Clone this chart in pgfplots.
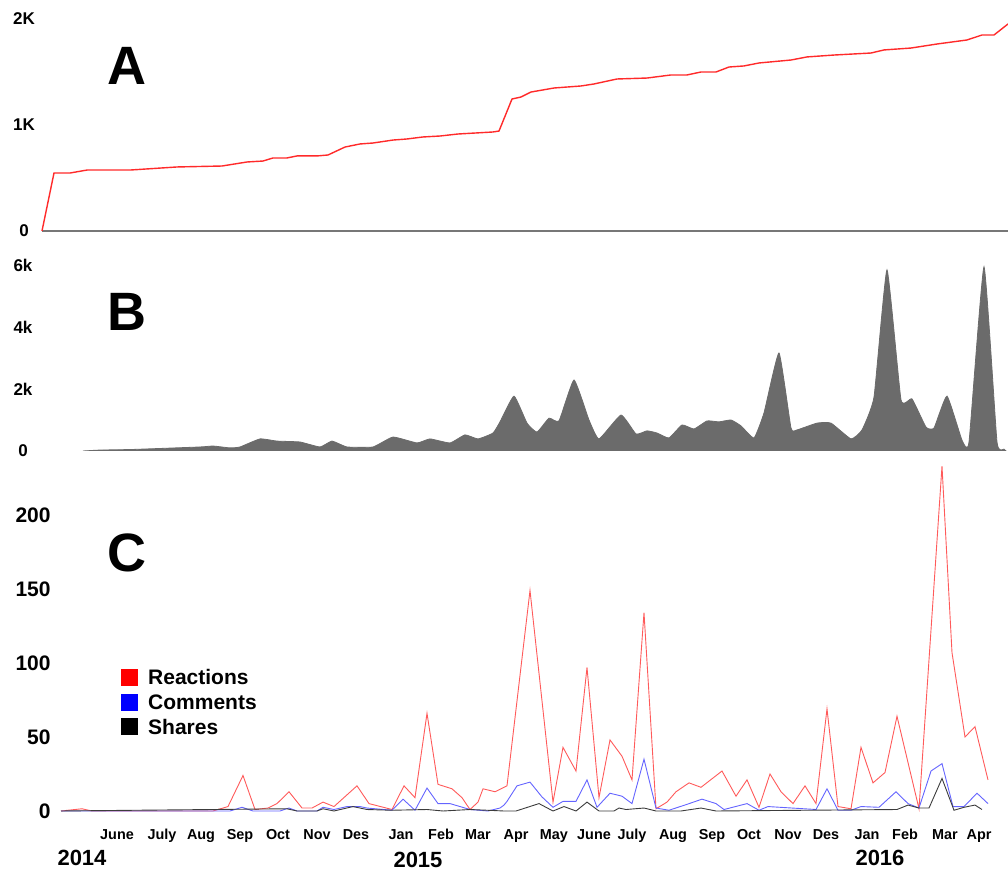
\documentclass[border=0pt]{standalone}
\usepackage{pgfplots}
\pgfplotsset{compat=1.18}
\usepackage{fontspec}
\setmainfont{Liberation Sans}

\definecolor{redA}{HTML}{FF2A2A}
\definecolor{redC}{HTML}{FF5A5A}
\definecolor{blueC}{HTML}{6464FF}
\definecolor{blackC}{HTML}{3C3C3C}
\definecolor{areaB}{HTML}{6B6B6B}
\definecolor{baseA}{HTML}{777777}

% all three panels share one x scale (x = position along the timeline)
\pgfplotsset{
  panel/.style={
    x=0.5pt, xmin=0, xmax=1008,
    axis line style={draw=none},
    major tick length=0pt,
    xtick=\empty,
    ytick pos=left,
    anchor=south west,
  },
  sq/.style={legend image code/.code={\fill[#1] (0pt,-3pt) rectangle (8pt,5pt);}},
}

\begin{document}
\begin{tikzpicture}
\path[use as bounding box] (0,0) rectangle (504pt,-435pt);

% ---------- A: cumulative ----------
\begin{axis}[panel, at={(0pt,-115.5pt)}, y=0.053pt, ymin=0, ymax=2150, clip=false,
  ytick={0,1000,2000}, yticklabels={0,1K,2K},
  yticklabel style={anchor=center, xshift=12pt, font=\fontsize{8.5}{9}\selectfont\bfseries}]
\addplot[baseA, line width=0.6pt] coordinates {(42,0) (1008,0)};
\addplot[redA, line width=0.7pt] coordinates {
(42,0) (54,547) (70,547) (87,575) (130,575) (177,604) (222,613) (247,651)
(263,660) (273,689) (287,689) (297,708) (317,708) (328,717) (345,792)
(360,821) (373,830) (393,858) (407,868) (423,887) (440,896) (458,915)
(493,934) (499,943) (512,1245) (521,1264) (531,1311) (554,1349) (581,1368)
(594,1387) (617,1434) (647,1443) (671,1472) (687,1472) (701,1500) (716,1500)
(729,1547) (744,1557) (759,1585) (791,1613) (807,1642) (834,1660) (871,1679)
(884,1708) (911,1726) (937,1764) (967,1802) (982,1849) (994,1849) (1008,1953)};
\end{axis}

% ---------- B: area ----------
\begin{axis}[panel, at={(0pt,-225.5pt)}, y=0.0155pt, ymin=0, ymax=6300,
  ytick={0,2000,4000,6000}, yticklabels={0,2k,4k,6k},
  yticklabel style={anchor=center, xshift=11.5pt, font=\fontsize{8.5}{9}\selectfont\bfseries}]
\addplot[fill=areaB, draw=areaB, smooth, tension=0.25] coordinates {
(83,0) (100,30) (133,50) (200,130) (213,160) (230,100) (240,130) (260,390)
(277,320) (300,290) (320,130) (332,320) (347,130) (373,130) (393,450)
(417,260) (430,390) (450,260) (465,520) (478,390) (493,580) (500,940)
(514,1770) (527,900) (537,610) (549,1060) (559,970) (574,2290) (589,1000)
(599,390) (621,1160) (636,550) (647,650) (657,580) (669,420) (682,840)
(694,710) (707,970) (719,940) (731,1000) (741,810) (754,420) (764,1230)
(779,3160) (791,740) (797,680) (817,900) (831,900) (851,390) (862,680)
(874,1740) (887,5840) (901,1650) (912,1680) (926,770) (934,740) (947,1770)
(962,350) (969,290) (984,5940) (997,290) (1004,60) (1006,0)} \closedcycle;
\end{axis}

% ---------- C: reactions, comments, shares ----------
\begin{axis}[panel, at={(0pt,-412.9pt)}, y=0.74pt, ymin=-10, ymax=245, clip=false,
  ytick={0,50,100,150,200}, yticklabels={0,50,100,150,200},
  yticklabel style={anchor=east, inner sep=0pt, xshift=25.5pt, font=\fontsize{10.5}{12}\selectfont\bfseries},
  xtick={117,162,201,240,278,317,356,401,441,478,516,554,594,632,673,712,749,788,826,867,905,945,979},
  xticklabels={June,July,Aug,Sep,Oct,Nov,Des,Jan,Feb,Mar,Apr,May,June,July,Aug,Sep,Oct,Nov,Des,Jan,Feb,Mar,Apr},
  xticklabel style={anchor=base, inner sep=0pt, yshift=-7.1pt, font=\fontsize{7.2}{8}\selectfont\bfseries},
  legend style={at={(axis cs:121,97.7)}, anchor=north west, draw=none, fill=none,
    inner sep=0pt, row sep=0pt, font=\fontsize{10.5}{12}\selectfont\bfseries,
    nodes={inner sep=1.45pt, text height=7.5pt, text depth=2pt},
    /tikz/every odd column/.append style={column sep=3.5pt}},
  legend cell align=left]
\addplot[redC, line width=0.45pt, sq=red] coordinates {
(61,0) (82,1.5) (92,0) (213,0) (228,3) (243,24) (255,1) (268,2) (277,5)
(289,13) (302,2) (312,2) (323,6) (334,3) (357,17) (369,5) (392,1) (404,17)
(415,9) (427,66) (438,18) (452,15) (462,9) (470,1) (478,6) (483,15) (495,13)
(504,16) (507,17) (530,149) (553,6) (563,43) (576,27) (587,97) (599,9)
(610,48) (622,37) (632,21) (644,134) (656,1.5) (667,6) (676,13) (689,19)
(701,16) (722,27) (736,10) (747,21) (759,2.5) (770,25) (781,13) (793,5)
(805,17) (816,5) (827,69) (838,3) (851,1.5) (861,43) (873,19) (885,26)
(897,64) (919,1.5) (942,233) (952,107) (965,50) (975,57) (988,21)};
\addlegendentry{Reactions}
\addplot[blueC, line width=0.45pt, sq=blue] coordinates {
(61,0) (230,0) (242,2.5) (253,0) (280,0) (289,2) (297,0) (317,0) (323,2.5)
(334,1) (347,3) (360,3) (367,2) (392,0.5) (403,8) (415,0.5) (427,15.5)
(438,5) (450,5) (470,1) (488,0) (500,2) (504,4) (507,6.5) (517,17) (530,19.5)
(542,9.5) (553,2.5) (563,6.5) (576,6.5) (587,21) (597,2.5) (610,12) (622,10)
(632,5) (644,35) (656,2) (669,0.5) (687,4.5) (702,8) (716,5) (724,1) (747,5)
(759,0.5) (768,3) (816,1) (827,15) (838,0.5) (851,0.5) (861,3) (879,2.5)
(896,13) (908,5) (919,2) (931,27) (942,32) (953,3) (964,3) (977,12) (988,5)};
\addlegendentry{Comments}
\addplot[blackC, line width=0.45pt, sq=black] coordinates {
(61,0) (287,1.5) (297,0) (317,0) (323,1.5) (334,0) (353,3) (367,1) (392,0.5)
(427,1) (443,0) (470,1) (504,0) (516,0) (539,5) (553,0) (564,3) (576,0)
(587,6) (599,0) (614,0) (619,2) (626,1) (644,2) (656,0) (681,0) (701,2)
(716,0) (897,1) (908,4) (919,2) (929,2) (942,22) (954,0.5) (964,2.5)
(975,4) (982,1)};
\addlegendentry{Shares}
\end{axis}

% panel letters and years
\node[font=\fontsize{27}{30}\selectfont\bfseries] at (63.5pt,-33pt) {A};
\node[font=\fontsize{27}{30}\selectfont\bfseries] at (63.5pt,-156pt) {B};
\node[font=\fontsize{27}{30}\selectfont\bfseries] at (63.5pt,-276.5pt) {C};
\node[font=\fontsize{11}{12}\selectfont\bfseries] at (41pt,-429pt) {2014};
\node[font=\fontsize{11}{12}\selectfont\bfseries] at (209pt,-430pt) {2015};
\node[font=\fontsize{11}{12}\selectfont\bfseries] at (440pt,-429pt) {2016};
\end{tikzpicture}
\end{document}
